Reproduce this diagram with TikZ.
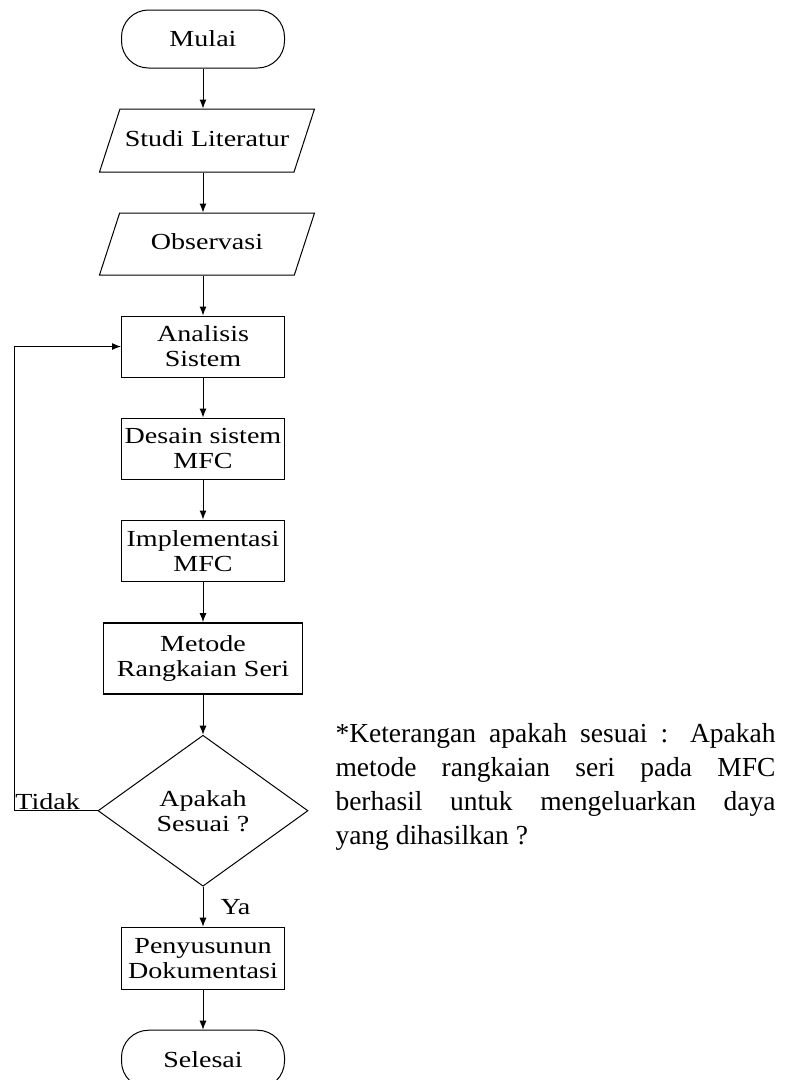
\documentclass[tikz,border=0pt]{standalone}
\usepackage{fontspec}
\setmainfont{Liberation Serif}
\newfontfamily\bagan[FakeStretch=1.22]{Liberation Serif}
\usetikzlibrary{chains, positioning, shapes.geometric, arrows.meta}
\tolerance=10000

\begin{document}
\begin{tikzpicture}[x=1pt, y=1pt, node distance=40pt, line width=1pt,
    >={Latex[length=9pt, width=7pt]},
    every node/.style={font=\bagan\fontsize{23}{25}\selectfont, align=center, inner sep=2pt},
    kotak/.style={draw, minimum width=163pt, minimum height=61pt},
    ujung/.style={draw, rounded corners=27pt, minimum width=163pt, minimum height=58pt},
    io/.style={draw, trapezium, trapezium left angle=72, trapezium right angle=108,
      trapezium stretches body=true, minimum width=215pt, text height=16pt,
      text depth=5pt, inner ysep=21pt},
    putusan/.style={draw, diamond, shape aspect=1.4, minimum width=210pt,
      minimum height=151pt, inner sep=0pt}]
    \useasboundingbox (0,0) rectangle (786,-1080);

    \begin{scope}[start chain=going below]
      \node[on chain, ujung] (mulai) at (203,-39) {Mulai};
      \node[on chain, io, xshift=4pt] (studi) {Studi Literatur};
      \node[on chain, io, inner ysep=20.5pt] (obs) {Observasi};
      \node[on chain, kotak, xshift=-4pt] (analisis) {Analisis\\Sistem};
      \node[on chain, kotak] (desain) {Desain sistem\\MFC};
      \node[on chain, kotak, line width=1.6pt] (impl) {Implementasi\\MFC};
      \node[on chain, kotak, line width=1.6pt, minimum width=199pt,
        minimum height=71pt] (metode) {Metode\\Rangkaian Seri};
      \node[on chain, putusan] (cek) {Apakah\\Sesuai ?};
      \node[on chain, kotak, minimum height=62pt] (susun) {Penyusunun\\Dokumentasi};
      \node[on chain, ujung] (selesai) {Selesai};
    \end{scope}

    \coordinate (balik) at (14,0);
    \node[anchor=north west, inner sep=0pt, text width=440pt, align=justify,
      font=\rmfamily\fontsize{27.5}{34}\selectfont] (ket) at (335,-723)
      {*Keterangan apakah sesuai : Apakah\linebreak metode rangkaian seri pada MFC\linebreak
       berhasil untuk mengeluarkan daya\linebreak yang dihasilkan ?};

    \draw[->] (mulai) -- (mulai |- studi.north);
    \draw[->] (studi.south -| mulai) -- (mulai |- obs.north);
    \draw[->] (obs.south -| mulai) -- (analisis);
    \draw[->] (analisis) -- (desain);
    \draw[->] (desain) -- (impl);
    \draw[->] (impl) -- (metode);
    \draw[->] (metode) -- (cek);
    \draw[->] (cek) -- node[midway, right=15pt] {Ya} (susun);
    \draw[->] (susun) -- (selesai);
    \draw[->] (cek.west) -- node[pos=1, anchor=south west, inner sep=1pt] {Tidak}
      (cek.west -| balik) |- (analisis.west);
  \end{tikzpicture}
\end{document}
